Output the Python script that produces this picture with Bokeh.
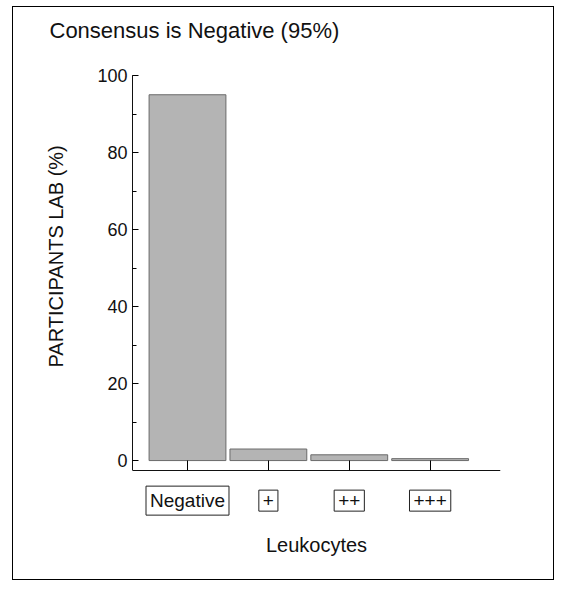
from bokeh.plotting import figure
from bokeh.models import Range1d, SingleIntervalTicker, FixedTicker, ColumnDataSource, LinearAxis, Title
from bokeh.core.properties import value
from bokeh.embed import file_html
from bokeh.resources import INLINE

categories = ["Negative", "+", "++", "+++"]
values = [95, 3, 1.5, 0.5]
title_text = "Consensus is Negative  (95%)"
y_label = "PARTICIPANTS LAB (%)"
x_label = "Leukocytes"

xs = list(range(len(categories)))
FONT = "Liberation Sans"
INK = "#111111"

p = figure(width=542, height=574, output_backend="svg", toolbar_location=None,
           x_range=Range1d(-0.68, 3.87), y_range=Range1d(-16.6, 100),
           min_border_left=119, min_border_right=55, min_border_top=68, min_border_bottom=57,
           title=title_text, x_axis_location=None)
p.styles = {"border": "1px solid black", "margin-left": "12px", "margin-top": "6px"}
p.outline_line_color = None
p.background_fill_color = "white"
p.border_fill_color = "white"

p.title.text_font = FONT
p.title.text_font_size = "22px"
p.title.text_font_style = "normal"
p.title.text_color = INK
p.title.vertical_align = "top"
p.title.offset = -83
p.title.standoff = 18

# blank spacer between the frame and the title
p.add_layout(Title(text=" ", text_font_size="2px", standoff=18), "above")

src = ColumnDataSource(dict(x=xs, top=values, cat=categories, ly=[-10.4] * len(xs)))
p.vbar(x="x", top="top", bottom=0, width=0.95, source=src,
       fill_color="#b4b4b4", line_color="#6a6a6a", line_width=1)

# category axis drawn at the bottom of the value scale
xa = LinearAxis(ticker=FixedTicker(ticks=xs), fixed_location=-2.6)
xa.major_tick_in = 10
xa.major_tick_out = 0
xa.minor_tick_in = 0
xa.minor_tick_out = 0
xa.major_label_overrides = {i: "" for i in xs}
xa.major_label_text_font_size = "1px"
xa.major_label_standoff = 0
xa.axis_line_color = INK
p.add_layout(xa, "below")

# axis that only carries the x title
xt = LinearAxis(ticker=FixedTicker(ticks=[]), axis_label=x_label)
xt.axis_line_color = None
xt.major_tick_in = 0
xt.major_tick_out = 0
xt.minor_tick_in = 0
xt.minor_tick_out = 0
xt.major_label_text_font_size = "1px"
xt.axis_label_text_font = FONT
xt.axis_label_text_font_size = "20px"
xt.axis_label_text_font_style = "normal"
xt.axis_label_text_color = INK
xt.axis_label_standoff = 9
p.add_layout(xt, "below")

ya = p.yaxis[0]
ya.bounds = (-2.6, 100)
ya.ticker = SingleIntervalTicker(interval=20, num_minor_ticks=2)
ya.major_tick_in = 6
ya.major_tick_out = 0
ya.minor_tick_in = 4
ya.minor_tick_out = 0
ya.major_label_text_font = FONT
ya.major_label_text_font_size = "18px"
ya.major_label_text_color = INK
ya.major_label_standoff = 5
ya.axis_line_color = INK

# y title, placed along the value scale rather than the whole frame
p.add_layout(Title(text=y_label, align="left", offset=157, standoff=55,
                   text_font=FONT, text_font_size="20px", text_font_style="normal",
                   text_color=INK), "left")

p.xgrid.visible = False
p.ygrid.visible = False

p.text(x="x", y="ly", text="cat", source=src,
       text_align="center", text_baseline="middle",
       text_font=value(FONT), text_font_size=value("19px"), text_color=INK,
       border_line_color="#222222", background_fill_color="white", padding=4)

open("out.html", "w").write(file_html(p, INLINE))
